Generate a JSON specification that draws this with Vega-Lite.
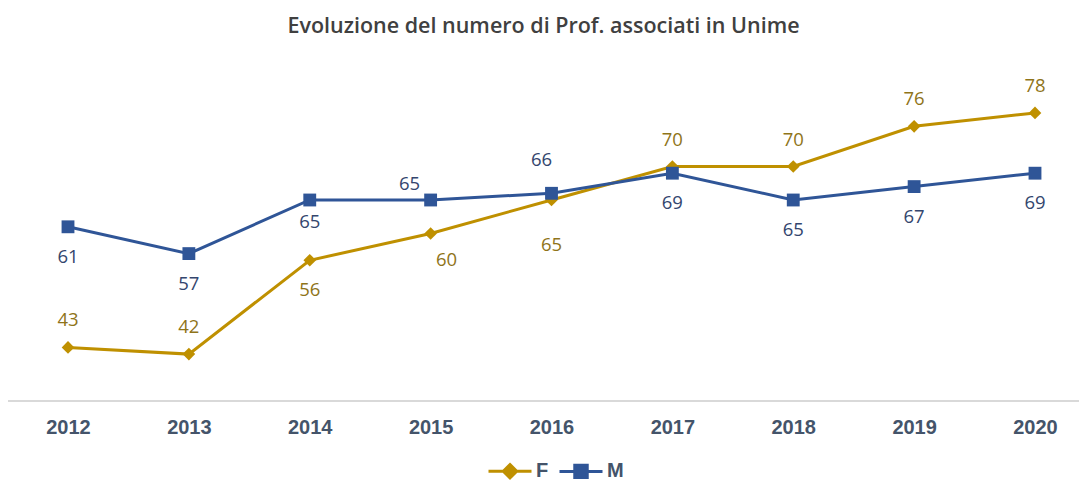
{
  "$schema": "https://vega.github.io/schema/vega-lite/v6.json",
  "autosize": {"type": "none"},
  "width": 1071,
  "height": 335,
  "padding": {"left": 8, "top": 66, "right": 0, "bottom": 79},
  "background": "white",
  "config": {"view": {"stroke": null}},
  "title": {
    "text": "Evoluzione del numero di Prof. associati in Unime",
    "font": "Open Sans",
    "fontSize": 21.5,
    "fontWeight": 600,
    "color": "#404040",
    "anchor": "middle",
    "frame": "group",
    "offset": 29
  },
  "data": {
    "values": [
      {"year": "2012", "s": "F", "v": 43},
      {"year": "2013", "s": "F", "v": 42},
      {"year": "2014", "s": "F", "v": 56},
      {"year": "2015", "s": "F", "v": 60},
      {"year": "2016", "s": "F", "v": 65},
      {"year": "2017", "s": "F", "v": 70},
      {"year": "2018", "s": "F", "v": 70},
      {"year": "2019", "s": "F", "v": 76},
      {"year": "2020", "s": "F", "v": 78},
      {"year": "2012", "s": "M", "v": 61},
      {"year": "2013", "s": "M", "v": 57},
      {"year": "2014", "s": "M", "v": 65},
      {"year": "2015", "s": "M", "v": 65},
      {"year": "2016", "s": "M", "v": 66},
      {"year": "2017", "s": "M", "v": 69},
      {"year": "2018", "s": "M", "v": 65},
      {"year": "2019", "s": "M", "v": 67},
      {"year": "2020", "s": "M", "v": 69}
    ]
  },
  "encoding": {
    "x": {
      "field": "year",
      "type": "ordinal",
      "scale": {"type": "point", "range": [60, 1027], "padding": 0},
      "axis": {
        "title": null,
        "domain": false,
        "ticks": false,
        "tickSize": 0,
        "grid": false,
        "labelAngle": 0,
        "labelFont": "Liberation Sans",
        "labelFontSize": 20,
        "labelFontWeight": "bold",
        "labelColor": "#44546A",
        "labelPadding": 16
      }
    },
    "y": {
      "field": "v",
      "type": "quantitative",
      "scale": {"domain": [35, 85], "nice": false, "zero": false},
      "axis": null
    }
  },
  "layer": [
    {
      "mark": {"type": "rule", "color": "#D9D9D9", "strokeWidth": 1.5},
      "encoding": {"x": null, "y": {"datum": 35}}
    },
    {
      "mark": {"type": "line", "strokeWidth": 3},
      "encoding": {
        "color": {
          "field": "s",
          "type": "nominal",
          "scale": {"domain": ["F", "M"], "range": ["#BF9000", "#2F5597"]},
          "legend": {
            "title": null,
            "orient": "none",
            "direction": "horizontal",
            "legendX": 479,
            "legendY": 382,
            "symbolSize": 1849,
            "symbolStrokeWidth": 3,
            "labelFont": "Liberation Sans",
            "labelFontSize": 20,
            "labelFontWeight": "bold",
            "labelColor": "#44546A",
            "labelOffset": 3,
            "columnPadding": 4,
            "encode": {
              "symbols": {
                "update": {
                  "shape": {"signal": "datum.value === 'F' ? 'M-1,0L1,0M0,-0.31L0.31,0L0,0.31L-0.31,0Z' : 'M-1,0L1,0M-0.29,-0.29L0.29,-0.29L0.29,0.29L-0.29,0.29Z'"},
                  "fill": {"signal": "datum.value === 'F' ? '#BF9000' : '#2F5597'"},
                  "stroke": {"signal": "datum.value === 'F' ? '#BF9000' : '#2F5597'"},
                  "strokeWidth": {"value": 3}
                }
              }
            }
          }
        }
      }
    },
    {
      "transform": [{"filter": "datum.s === 'F'"}],
      "mark": {"type": "point", "shape": "diamond", "filled": true, "opacity": 1, "size": 160, "color": "#BF9000"}
    },
    {
      "transform": [{"filter": "datum.s === 'M'"}],
      "mark": {"type": "point", "shape": "square", "filled": true, "opacity": 1, "size": 165, "color": "#2F5597"}
    },
    {
      "transform": [{"filter": "(datum.s === 'F' && indexof(['2012','2013','2017','2018','2019','2020'], datum.year) >= 0)"}],
      "mark": {"type": "text", "font": "Open Sans", "fontSize": 18.5, "baseline": "middle", "dy": -27, "color": "#8F7419"},
      "encoding": {"text": {"field": "v", "type": "quantitative"}}
    },
    {
      "transform": [{"filter": "(datum.s === 'F' && datum.year === '2014') || (datum.s === 'M' && indexof(['2012','2013','2017','2018','2019','2020'], datum.year) >= 0)"}],
      "mark": {"type": "text", "font": "Open Sans", "fontSize": 18.5, "baseline": "middle", "dy": 30},
      "encoding": {
        "text": {"field": "v", "type": "quantitative"},
        "color": {"condition": {"test": "datum.s === 'F'", "value": "#8F7419"}, "value": "#34466E"}
      }
    },
    {
      "transform": [{"filter": "datum.s === 'M' && datum.year === '2014'"}],
      "mark": {"type": "text", "font": "Open Sans", "fontSize": 18.5, "baseline": "middle", "dy": 22, "color": "#34466E"},
      "encoding": {"text": {"field": "v", "type": "quantitative"}}
    },
    {
      "transform": [{"filter": "datum.s === 'F' && datum.year === '2015'"}],
      "mark": {"type": "text", "font": "Open Sans", "fontSize": 18.5, "baseline": "middle", "dx": 16, "dy": 26, "color": "#8F7419"},
      "encoding": {"text": {"field": "v", "type": "quantitative"}}
    },
    {
      "transform": [{"filter": "datum.s === 'F' && datum.year === '2016'"}],
      "mark": {"type": "text", "font": "Open Sans", "fontSize": 18.5, "baseline": "middle", "dy": 45, "color": "#8F7419"},
      "encoding": {"text": {"field": "v", "type": "quantitative"}}
    },
    {
      "transform": [{"filter": "datum.s === 'M' && datum.year === '2015'"}],
      "mark": {"type": "text", "font": "Open Sans", "fontSize": 18.5, "baseline": "middle", "dx": -21, "dy": -16, "color": "#34466E"},
      "encoding": {"text": {"field": "v", "type": "quantitative"}}
    },
    {
      "transform": [{"filter": "datum.s === 'M' && datum.year === '2016'"}],
      "mark": {"type": "text", "font": "Open Sans", "fontSize": 18.5, "baseline": "middle", "dx": -10, "dy": -33, "color": "#34466E"},
      "encoding": {"text": {"field": "v", "type": "quantitative"}}
    }
  ]
}
